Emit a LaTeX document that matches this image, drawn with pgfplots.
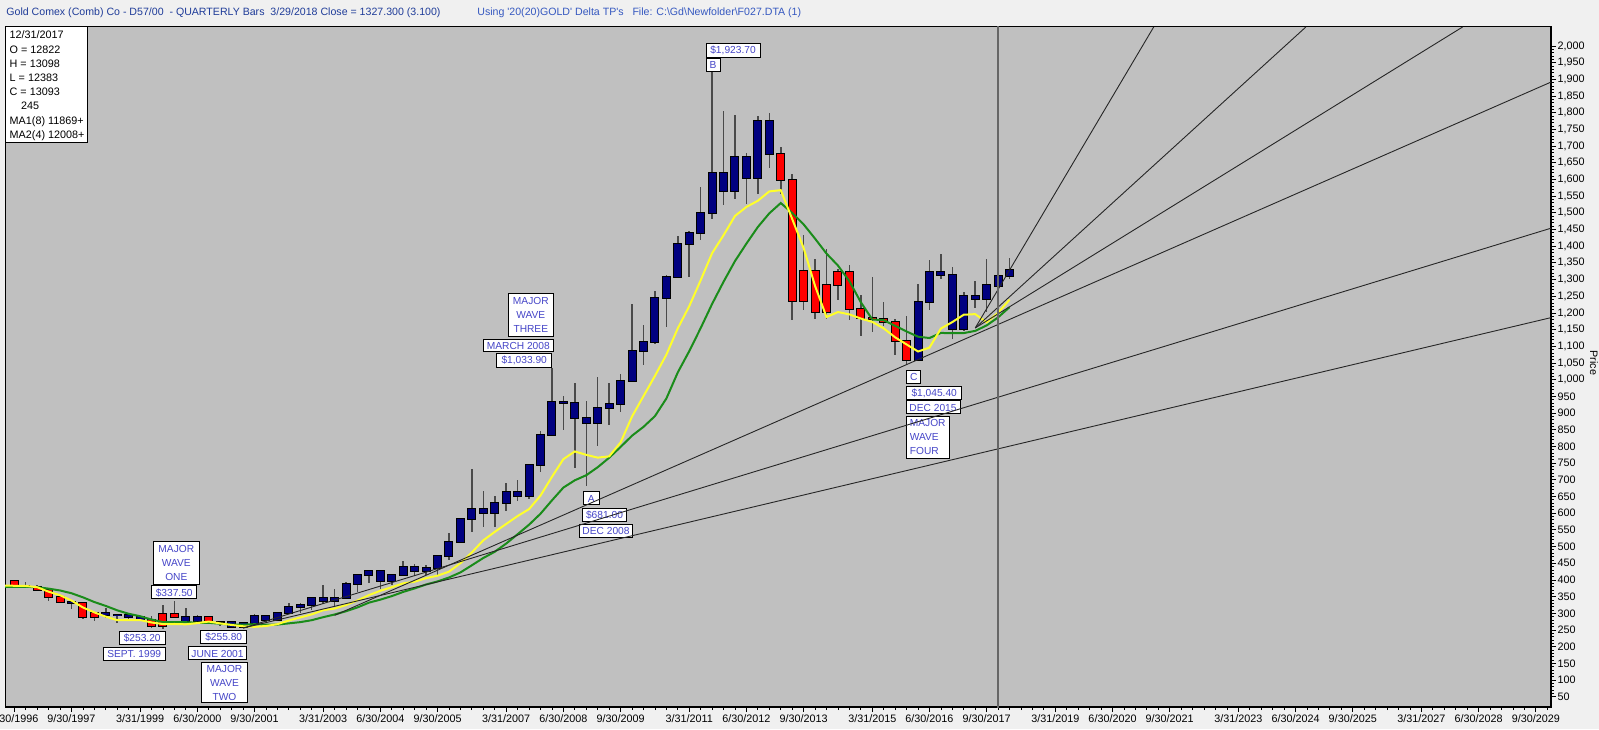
\documentclass[border=0pt]{standalone}
\usepackage{pgfplots}
\pgfplotsset{compat=1.18}
\usepackage{pgfplotstable}
\usepackage{fontspec}
\setmainfont{Liberation Sans}
\definecolor{plotgray}{HTML}{C0C0C0}
\definecolor{pagebg}{HTML}{F0F0F0}
\definecolor{navyc}{HTML}{000080}
\definecolor{redc}{HTML}{FF0000}
\definecolor{wick}{HTML}{4A4A4A}
\definecolor{mayel}{HTML}{FFFF2A}
\definecolor{magrn}{HTML}{1A8C1A}
\definecolor{boxblue}{HTML}{4646C8}
\definecolor{tblue}{HTML}{1F3C99}
\definecolor{tblue2}{HTML}{3558C0}
\newcommand\lab{\fontsize{5.4pt}{6.5pt}\selectfont}
\newcommand\ttl{\fontsize{5.3pt}{6.5pt}\selectfont}
\newcommand\bxf{\fontsize{5.1pt}{7pt}\selectfont}
\newcommand\bx[5]{\node[draw=black, line width=0.5pt, fill=white, text=boxblue, font=\bxf, minimum width=#3*0.5pt, minimum height=#4*0.5pt, inner sep=0.5pt, text height=3.7pt, text depth=0pt] at ({#1*0.5pt},{364.5pt-#2*0.5pt}) {#5};}
\newcommand\bxm[6]{\node[draw=black, line width=0.5pt, fill=white, text=boxblue, font=\bxf, minimum width=#3*0.5pt, minimum height=#4*0.5pt, inner sep=0.5pt, align=#5] at ({#1*0.5pt},{364.5pt-#2*0.5pt}) {#6};}
\newcommand\txt[4]{\node[anchor=west, inner sep=0pt, font=\lab, text=#3, text height=3.9pt, text depth=0pt] at ({#1*0.5pt},{364.5pt-#2*0.5pt}) {#4};}
\newcommand\ttx[4]{\node[anchor=west, inner sep=0pt, font=\ttl, text=#3, text height=3.8pt, text depth=0pt] at ({#1*0.5pt},{364.5pt-#2*0.5pt}) {#4};}

\pgfplotstableread{
q O H L C K
1 396.3 400 378 382.0 1
2 382.0 394 378 379.0 0
3 379.0 386 366 369.3 1
4 369.3 370 337 348.2 1
5 348.2 352 336 334.6 1
6 334.6 336 314 332.1 0
7 332.1 335 283 290.2 1
8 290.2 305 278 301.0 1
9 301.0 315 285 296.3 0
10 296.3 299 272 293.9 0
11 293.9 301 284 288.0 0
12 288.0 292 278 279.5 0
13 279.5 291 256 261.0 1
14 261.0 326 252.8 299.0 1
15 299.0 337.5 285 290.3 1
16 290.3 317 274 276.8 0
17 276.8 294 271 288.2 0
18 288.2 290 271 273.6 1
19 273.6 276 263 273.6 0
20 273.6 274 255 257.7 0
21 257.7 273 255.8 270.6 0
22 270.6 297 264 293.1 0
23 293.1 294 273 279.0 0
24 279.0 305 277 301.4 0
25 301.4 330 300 318.5 0
26 318.5 330 300 324.7 0
27 324.7 350 310 347.2 0
28 347.2 385 327 336.8 0
29 336.8 372 320 346.0 0
30 346.0 393 342 388.0 0
31 388.0 418 365 416.1 0
32 416.1 430 391 427.5 0
33 427.5 431 372 395.8 0
34 395.8 418 385 415.7 0
35 415.7 458 411 438.0 0
36 438.0 448 411 427.5 0
37 427.5 444 414 436.9 0
38 436.9 476 415 473.2 0
39 473.2 540 459 513.0 0
40 513.0 584 513 582.0 0
41 582.0 732 543 613.5 0
42 613.5 665 560 599.3 0
43 599.3 652 560 632.0 0
44 632.0 691 608 663.0 0
45 663.0 699 638 650.5 0
46 650.5 745 643 743.0 0
47 743.0 845 722 834.0 0
48 834.0 1033.9 833 933.5 0
49 933.5 950 850 930.3 0
50 930.3 990 735 884.5 0
51 884.5 935 681 869.8 0
52 869.8 1007 800 916.5 0
53 916.5 990 865 927.3 0
54 927.3 1018 902 995.8 0
55 995.8 1226 992 1087.5 0
56 1087.5 1163 1044 1113.3 0
57 1113.3 1265 1107 1244.0 0
58 1244.0 1315 1157 1307.8 0
59 1307.8 1432 1307.8 1405.5 0
60 1405.5 1447 1309 1439.0 0
61 1439.0 1577 1418 1500.4 0
62 1500.4 1923.7 1482 1620.4 0
63 1620.4 1804 1523 1566.8 0
64 1566.8 1792 1540 1668.0 0
65 1668.0 1680 1526 1604.2 0
66 1604.2 1790 1556 1776.0 0
67 1776.0 1798 1635 1675.8 0
68 1675.8 1696 1555 1597.0 1
69 1597.0 1616 1180 1234.5 1
70 1234.5 1434 1208 1327.0 1
71 1327.0 1362 1181 1202.3 1
72 1202.3 1392 1182 1283.8 1
73 1283.8 1332 1240 1322.0 1
74 1322.0 1345 1180 1210.5 1
75 1210.5 1255 1131 1184.1 1
76 1184.1 1308 1142 1183.0 1
77 1183.0 1232 1162 1172.4 1
78 1172.4 1183 1073 1115.2 1
79 1115.2 1192 1045.4 1060.2 1
80 1060.2 1287 1058 1234.2 0
81 1234.2 1358 1208 1321.4 0
82 1321.4 1378 1302 1313.3 0
83 1313.3 1338 1123 1152.3 0
84 1152.3 1264 1146 1251.2 0
85 1251.2 1296 1215 1242.3 0
86 1242.3 1362 1204 1283.1 0
87 1282.2 1309.8 1238.3 1309.3 0
88 1309.3 1366 1302 1327.3 0
}\candles

\pgfplotstableread{
q Y G
0 383.0 378.9
1 382.5 379.25
2 382.0 379.25
3 378.25 378.25
4 364.75 373.9
5 354.25 368.4
6 338.25 360.1
7 317.5 347.9
8 302.75 333.75
9 290.0 322.1
10 279.5 308.9
11 279.75 298.6
12 279.75 291.25
13 272.5 281.25
14 267.7 273.6
15 267.95 273.85
16 266.95 273.35
17 270.7 271.6
18 275.25 271.5
19 269.75 268.85
20 265.0 266.0
21 261.2 265.95
22 259.45 267.35
23 261.95 265.85
24 267.45 266.2
25 278.5 269.85
26 287.5 273.5
27 296.75 279.35
28 309.25 288.35
29 314.25 296.4
30 324.75 306.1
31 338.5 317.6
32 354.5 331.9
33 367.5 340.9
34 378.25 351.5
35 389.75 364.1
36 394.75 374.6
37 405.25 386.4
38 412.75 395.5
39 424.75 407.25
40 450.25 422.5
41 482.5 443.9
42 518.75 465.75
43 544.0 484.4
44 567.75 509.0
45 591.5 537.0
46 612.25 565.5
47 652.75 598.4
48 709.0 638.4
49 762.0 676.75
50 785.0 698.6
51 774.75 713.75
52 766.5 737.75
53 770.25 766.1
54 812.0 798.5
55 889.75 832.25
56 950.75 858.6
57 1011.25 890.75
58 1075.0 943.5
59 1153.95 1021.85
60 1220.2 1085.5
61 1297.95 1154.6
62 1379.2 1227.1
63 1433.0 1293.5
64 1490.75 1355.5
65 1517.75 1407.85
66 1536.25 1457.7
67 1564.25 1498.6
68 1568.0 1529.4
69 1481.5 1499.6
70 1394.5 1465.4
71 1281.0 1422.6
72 1187.75 1377.9
73 1202.75 1342.1
74 1195.75 1295.1
75 1183.25 1232.1
76 1173.25 1180.5
77 1153.75 1178.25
78 1127.0 1161.4
79 1105.6 1144.4
80 1084.6 1128.9
81 1096.1 1124.9
82 1153.35 1140.2
83 1172.75 1139.2
84 1194.75 1139.7
85 1196.5 1146.3
86 1172.0 1162.7
87 1200.8 1186.8
88 1239.8 1217.3
}\mas

\begin{document}
\begin{tikzpicture}
\fill[pagebg] (0,0) rectangle (799.5pt,364.5pt);
\begin{axis}[
  at={(2.5pt,11pt)}, anchor=south west,
  scale only axis, width=773pt, height=340pt,
  xmin=0.19, xmax=135.33, ymin=19.2, ymax=2056.9,
  axis background/.style={fill=plotgray},
  axis line style={black, line width=0.5pt},
  ytick={50,100,...,2000}, minor y tick num=4,
  scaled y ticks=false,
  xtick pos=left, ytick pos=right, yticklabel pos=right,
  tick align=outside,
  major tick length=2.5pt, minor tick length=1.5pt,
  tick style={black, line width=0.4pt},
  xtick={1,6,12,17,22,28,33,38,44,49,54,60,65,70,76,81,86,92,97,102,108,113,118,124,129,134},
  xticklabels={6/30/1996,9/30/1997,3/31/1999,6/30/2000,9/30/2001,3/31/2003,6/30/2004,9/30/2005,3/31/2007,6/30/2008,9/30/2009,3/31/2011,6/30/2012,9/30/2013,3/31/2015,6/30/2016,9/30/2017,3/31/2019,6/30/2020,9/30/2021,3/31/2023,6/30/2024,9/30/2025,3/31/2027,6/30/2028,9/30/2029},
  minor xtick={0,...,135},
  tick label style={font=\lab},
  /pgf/number format/assume math mode=true,
  /pgf/number format/1000 sep={,},
  yticklabel style={anchor=west, inner xsep=0.6pt},
  xticklabel style={inner ysep=1pt},
]
% wicks
\addplot[draw=none, mark=none, error bars/.cd, y dir=both, y explicit, error mark=none,
  error bar style={draw=wick, line width=0.75pt}]
  table[x=q, y expr={(\thisrow{H}+\thisrow{L})/2}, y error expr={(\thisrow{H}-\thisrow{L})/2}] {\candles};
% body outlines
\addplot[draw=none, mark=none, error bars/.cd, y dir=both, y explicit, error mark=none,
  error bar style={draw=black, line width=4.5pt}]
  table[x=q, y expr={(\thisrow{O}+\thisrow{C})/2}, y error expr={abs(\thisrow{C}-\thisrow{O})/2+3}] {\candles};
% red bodies
\addplot[draw=none, mark=none, error bars/.cd, y dir=both, y explicit, error mark=none,
  error bar style={draw=redc, line width=3.5pt}]
  table[x=q, y expr={(\thisrow{O}+\thisrow{C})/2}, y error expr={\thisrow{K}==1 ? abs(\thisrow{C}-\thisrow{O})/2 : 0}] {\candles};
% navy bodies
\addplot[draw=none, mark=none, error bars/.cd, y dir=both, y explicit, error mark=none,
  error bar style={draw=navyc, line width=3.5pt}]
  table[x=q, y expr={(\thisrow{O}+\thisrow{C})/2}, y error expr={\thisrow{K}==0 ? abs(\thisrow{C}-\thisrow{O})/2 : 0}] {\candles};
% moving averages
\addplot[magrn, line width=1pt] table[x=q, y=G] {\mas};
\addplot[mayel, line width=1pt] table[x=q, y=Y] {\mas};
\end{axis}
\draw[black, line width=1.2pt] (2.5pt,11pt) -- (776pt,11pt);
\draw[black, line width=0.9pt] (775.5pt,11pt) -- (775.5pt,351pt);

% annotation boxes
\bxm{176.3}{562.9}{46}{42.3}{center}{MAJOR\\WAVE\\ONE}
\bx{174.2}{592.3}{45}{13.3}{\$337.50}
\bx{142.2}{637.8}{45.7}{12.5}{\$253.20}
\bx{134.2}{654}{61.7}{13.4}{SEPT. 1999}
\bx{223.7}{637.2}{46}{12.5}{\$255.80}
\bx{217.5}{653.3}{58.4}{13.3}{JUNE 2001}
\bxm{224.5}{682.8}{45.6}{40.3}{center}{MAJOR\\WAVE\\TWO}
\bxm{530.8}{315.3}{45}{42.7}{center}{MAJOR\\WAVE\\THREE}
\bx{518.3}{345.5}{70}{12.4}{MARCH 2008}
\bx{524.2}{360.3}{55}{14}{\$1,033.90}
\bx{591.3}{498.3}{16}{13.3}{A}
\bx{604.5}{515}{44.4}{13.4}{\$681.00}
\bx{606}{530.7}{53.4}{13.3}{DEC 2008}
\bx{733}{50.3}{54}{14}{\$1,923.70}
\bx{713}{65}{14}{13.4}{B}
\bx{913.7}{376.7}{14}{13.3}{C}
\bx{934.2}{392.7}{55}{13.3}{\$1,045.40}
\bx{933}{407.3}{54}{13.3}{DEC 2015}
\bxm{927.7}{437.2}{43.3}{42.3}{left}{MAJOR\\WAVE\\FOUR}

% overlay axis: fan lines and cursor line
\begin{axis}[
  at={(2.5pt,11pt)}, anchor=south west,
  scale only axis, width=773pt, height=340pt,
  xmin=0.19, xmax=135.33, ymin=19.2, ymax=2056.9,
  hide axis,
]
\addplot[black!85, line width=0.45pt] coordinates {(29,293.8) (135.33,1891.9)};
\addplot[black!85, line width=0.45pt] coordinates {(21,255.8) (135.33,1454)};
\addplot[black!85, line width=0.45pt] coordinates {(21,255.8) (135.33,1186)};
\addplot[black!85, line width=0.45pt] coordinates {(85,1155) (100.6,2056.9)};
\addplot[black!85, line width=0.45pt] coordinates {(85,1155) (113.9,2056.9)};
\addplot[black!85, line width=0.45pt] coordinates {(85,1155) (127.6,2056.9)};
\addplot[black!60, line width=0.7pt] coordinates {(87,0) (87,2100)};
\end{axis}

% info box
\draw[black, line width=0.5pt, fill=white] ({5*0.5pt},{364.5pt-27*0.5pt}) rectangle ({87*0.5pt},{364.5pt-143*0.5pt});
\txt{9.3}{35}{black}{12/31/2017}
\txt{9.3}{49.2}{black}{O = 12822}
\txt{9.3}{63.4}{black}{H = 13098}
\txt{9.3}{77.6}{black}{L = 12383}
\txt{9.3}{91.8}{black}{C = 13093}
\txt{20.7}{106}{black}{245}
\txt{9.3}{120.2}{black}{MA1(8) 11869+}
\txt{9.3}{134.4}{black}{MA2(4) 12008+}

% titles
\ttx{6}{11.5}{tblue}{Gold Comex (Comb) Co - D57/00\ \ - QUARTERLY Bars\ \ 3/29/2018 Close = 1327.300 (3.100)}
\ttx{477}{11.5}{tblue2}{Using \textquotesingle20(20)GOLD\textquotesingle\ Delta TP\textquotesingle s\ \ \ File: C:\textbackslash Gd\textbackslash Newfolder\textbackslash F027.DTA (1)}

% axis title
\node[rotate=-90, font=\lab, inner sep=0pt] at ({1594*0.5pt},{364.5pt-363*0.5pt}) {Price};

\pgfresetboundingbox
\useasboundingbox (0,0) rectangle (799.5pt,364.5pt);
\end{tikzpicture}
\end{document}
